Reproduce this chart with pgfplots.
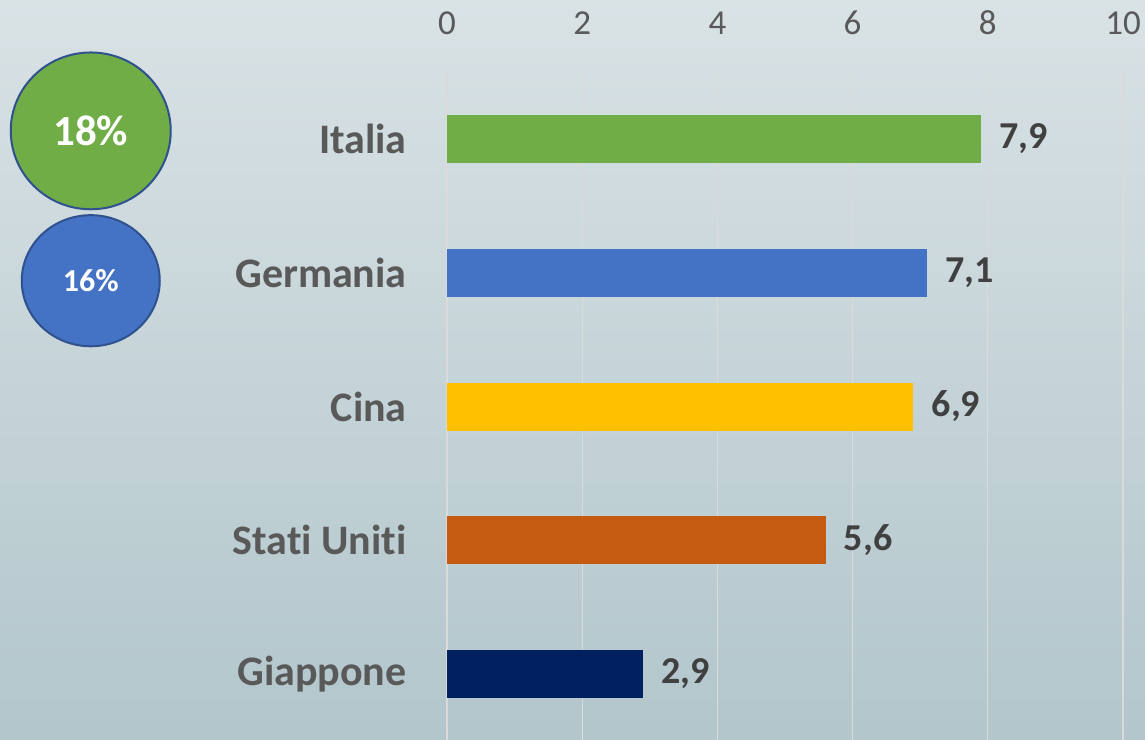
\documentclass[border=0pt]{standalone}
\usepackage{fontspec}
\setmainfont[Ligatures=NoCommon]{Carlito}
\usepackage{pgfplots}
\pgfplotsset{compat=1.18}
\definecolor{cgreen}{HTML}{70AD47}
\definecolor{cblue}{HTML}{4472C4}
\definecolor{cyellow}{HTML}{FFC000}
\definecolor{corange}{HTML}{C55A11}
\definecolor{cnavy}{HTML}{002060}
\definecolor{cborder}{HTML}{2F528F}
\definecolor{bgtop}{HTML}{D9E2E5}
\definecolor{bgbot}{HTML}{B2C6CC}
\definecolor{labgray}{HTML}{595959}
\definecolor{valgray}{HTML}{404040}
\definecolor{gridc}{HTML}{DADADA}
\pgfplotsset{
  barval/.style={xbar, bar shift=0pt, bar width=24pt, draw=none, nodes near coords,
    nodes near coords style={anchor=west, font=\fontsize{19}{22}\selectfont\bfseries, text=valgray, inner sep=0pt, xshift=9pt}},
}
\begin{document}
\begin{tikzpicture}
\useasboundingbox (0,0) rectangle (572.5pt,369.5pt);
\shade[top color=bgtop, bottom color=bgbot] (0,0) rectangle (572.5pt,369.5pt);
\begin{axis}[
  at={(223.5pt,-1pt)}, anchor=south west,
  scale only axis, width=338pt, height=334.5pt,
  xmin=0, xmax=10, ymin=-0.5, ymax=4.5,
  clip=false,
  axis line style={draw=none},
  xtick={0,2,...,10},
  xticklabel pos=upper,
  xtick style={draw=none},
  ytick style={draw=none},
  xmajorgrids,
  major grid style={gridc, line width=0.6pt},
  ytick={0,1,2,3,4},
  yticklabels={Giappone, Stati Uniti, Cina, Germania, Italia},
  yticklabel style={font=\fontsize{21}{24}\selectfont\bfseries, text=labgray, inner sep=0pt},
  xticklabel style={font=\fontsize{17.5}{20}\selectfont, text=labgray, inner sep=0pt},
  /pgf/number format/assume math mode=true,
  x tick label style={yshift=18.5pt},
  y tick label style={xshift=-20pt},
  point meta=explicit symbolic,
]
\addplot[barval, fill=cgreen] coordinates {(7.9,4) [{7,9}]};
\addplot[barval, fill=cblue] coordinates {(7.1,3) [{7,1}]};
\addplot[barval, fill=cyellow] coordinates {(6.9,2) [{6,9}]};
\addplot[barval, fill=corange] coordinates {(5.6,1) [{5,6}]};
\addplot[barval, fill=cnavy] coordinates {(2.9,0) [{2,9}]};
\addplot[only marks, mark=*, mark size=40pt, mark options={fill=cgreen, draw=cborder, line width=1pt, yscale=0.98},
  nodes near coords, nodes near coords style={anchor=center, text=white, inner sep=0pt, font=\fontsize{21.5}{24}\selectfont\bfseries}]
  coordinates {(-5.27,4.06) [18\%]};
\addplot[only marks, mark=*, mark size=34.5pt, mark options={fill=cblue, draw=cborder, line width=1pt, yscale=0.95},
  nodes near coords, nodes near coords style={anchor=center, text=white, inner sep=0pt, font=\fontsize{16}{18}\selectfont\bfseries}]
  coordinates {(-5.27,2.94) [16\%]};
\end{axis}
\end{tikzpicture}
\end{document}
